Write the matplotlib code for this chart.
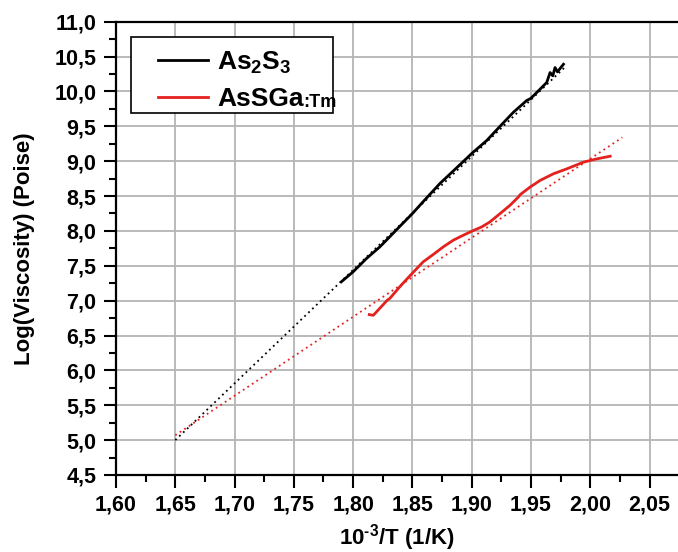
import matplotlib
matplotlib.use('Agg')
import matplotlib.pyplot as plt
from matplotlib.patches import Rectangle
from matplotlib.ticker import MultipleLocator, FuncFormatter

plt.rcParams['font.family'] = ['Liberation Sans', 'DejaVu Sans']
plt.rcParams['font.weight'] = 'bold'
plt.rcParams['mathtext.fontset'] = 'custom'
plt.rcParams['mathtext.rm'] = 'Liberation Sans:bold'
plt.rcParams['mathtext.bf'] = 'Liberation Sans:bold'
plt.rcParams['mathtext.it'] = 'Liberation Sans:bold'
plt.rcParams['mathtext.default'] = 'bf'

# As2S3 measured curve
as2s3_x = [1.7901, 1.800, 1.8113, 1.8225, 1.831, 1.8394, 1.8498, 1.8591, 1.8732,
           1.8845, 1.8957, 1.900, 1.9126, 1.9239, 1.9351, 1.9464, 1.9498, 1.9577,
           1.9633, 1.9661, 1.9684, 1.9703, 1.9723, 1.9774]
as2s3_y = [7.271, 7.414, 7.605, 7.771, 7.918, 8.065, 8.245, 8.420, 8.680,
           8.860, 9.040, 9.110, 9.295, 9.500, 9.700, 9.870, 9.900, 10.033,
           10.129, 10.271, 10.224, 10.343, 10.281, 10.390]

# AsSGa:Tm measured curve
assga_x = [1.8136, 1.8170, 1.8290, 1.831, 1.8394, 1.8479, 1.8591, 1.8676, 1.8760,
           1.8845, 1.8929, 1.900, 1.9084, 1.9154, 1.9239, 1.9323, 1.9394, 1.9408,
           1.9493, 1.9577, 1.9689, 1.9802, 1.9943, 2.0055, 2.0168]
assga_y = [6.80, 6.79, 7.01, 7.033, 7.20, 7.357, 7.557, 7.662, 7.771,
           7.867, 7.938, 7.995, 8.057, 8.129, 8.248, 8.367, 8.486, 8.519,
           8.629, 8.724, 8.819, 8.890, 8.986, 9.033, 9.071]

# linear fits (end points)
fit_as2s3_x = [1.65, 1.98]
fit_as2s3_y = [5.00, 10.37]
fit_assga_x = [1.65, 2.027]
fit_assga_y = [5.07, 9.34]

fig = plt.figure(figsize=(6.78, 5.52), dpi=100)
ax = fig.add_axes([116 / 678, 77 / 552, 562 / 678, 453.3 / 552])

red = '#e3211f'
ax.plot(fit_as2s3_x, fit_as2s3_y, color='black', lw=1.3, ls=(0, (1, 2)), zorder=3)
ax.plot(fit_assga_x, fit_assga_y, color=red, lw=1.3, ls=(0, (1, 2)), zorder=3)
l1, = ax.plot(as2s3_x, as2s3_y, color='black', lw=2, zorder=4)
l2, = ax.plot(assga_x, assga_y, color=red, lw=2, zorder=4)

ax.set_xlim(1.60, 2.074)
ax.set_ylim(4.5, 11.0)
ax.xaxis.set_major_locator(MultipleLocator(0.05))
ax.xaxis.set_minor_locator(MultipleLocator(0.025))
ax.yaxis.set_major_locator(MultipleLocator(0.5))
ax.yaxis.set_minor_locator(MultipleLocator(0.25))
ax.xaxis.set_major_formatter(FuncFormatter(lambda v, p: f'{v:.2f}'.replace('.', ',')))
ax.yaxis.set_major_formatter(FuncFormatter(lambda v, p: f'{v:.1f}'.replace('.', ',')))
ax.tick_params(which='major', direction='out', length=9, width=1.5, labelsize=15.5, pad=5)
ax.tick_params(which='minor', direction='out', length=5, width=1.5)
ax.grid(True, which='major', color='#b4b4b4', lw=1.3)
ax.set_axisbelow(True)

for s in ['left', 'bottom', 'top']:
    ax.spines[s].set_linewidth(1.6)
    ax.spines[s].set_color('black')
ax.spines['right'].set_visible(False)

ax.set_xlabel('10$^{\u20103}$/T (1/K)', fontsize=16, fontweight='bold', labelpad=5)
ax.set_ylabel('Log(Viscosity) (Poise)', fontsize=16, fontweight='bold', labelpad=14)

# legend box drawn separately so its size can be set directly
box = Rectangle((0.026, 0.799), 0.360, 0.1666, transform=ax.transAxes,
                facecolor='white', edgecolor='black', lw=1.2, zorder=5)
ax.add_patch(box)

leg = ax.legend([l1, l2], ['$As_2S_3$', 'AsSGa'], loc='upper left',
                bbox_to_anchor=(0.0747, 0.939), borderaxespad=0, borderpad=0,
                fontsize=19, handlelength=1.9, handletextpad=0.34,
                labelspacing=0.45, frameon=False)
for t in leg.get_texts():
    t.set_fontweight('bold')
leg.set_zorder(6)

# smaller suffix after the second legend entry
ax.annotate(':Tm', xy=(1, 0.19), xycoords=leg.get_texts()[1], va='baseline', ha='left',
            fontsize=13, fontweight='bold', zorder=7)

fig.savefig('out.png', dpi=100)
